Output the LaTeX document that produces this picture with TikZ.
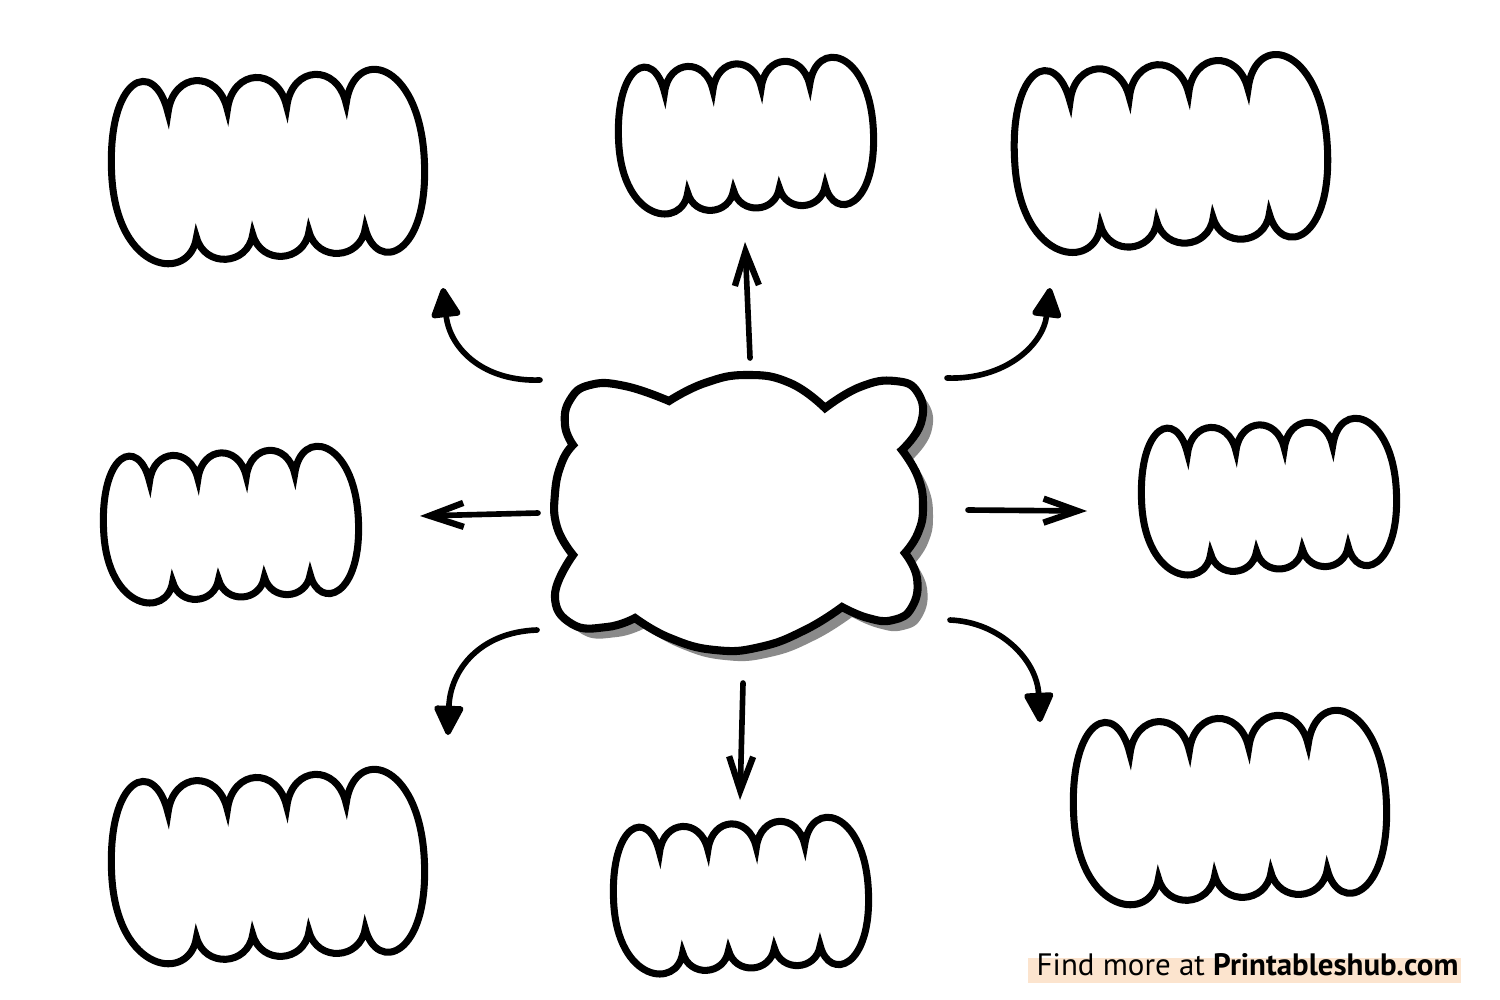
\documentclass[tikz,border=0pt]{standalone}
\usepackage{fontspec}
\setmainfont{PT Sans}
\usetikzlibrary{arrows.meta}
\definecolor{shadowgray}{HTML}{8A8A8A}
\definecolor{peach}{HTML}{FCE4CE}

% scalloped bubble: centre x, centre y, width, height, tilt
\newcommand{\bubble}[5]{%
\begin{scope}[shift={(#1,#2)},rotate=#5]
\draw[bubble] ({-0.5*#3},0)
 .. controls ({-0.5*#3},{-0.55*#4}) and ({-0.31*#3-0.06*#4},{-0.65*#4}) .. ({-0.31*#3},{-0.33*#4})
 .. controls ({-0.31*#3+0.04*#4},{-0.557*#4}) and ({-0.12*#3-0.04*#4},{-0.557*#4}) .. ({-0.12*#3},{-0.33*#4})
 .. controls ({-0.12*#3+0.04*#4},{-0.557*#4}) and ({0.07*#3-0.04*#4},{-0.557*#4}) .. ({0.07*#3},{-0.33*#4})
 .. controls ({0.07*#3+0.04*#4},{-0.557*#4}) and ({0.26*#3-0.04*#4},{-0.557*#4}) .. ({0.26*#3},{-0.33*#4})
 .. controls ({0.26*#3+0.06*#4},{-0.65*#4}) and ({0.5*#3},{-0.55*#4}) .. ({0.5*#3},0)
 .. controls ({0.5*#3},{0.55*#4}) and ({0.30*#3+0.05*#4},{0.62*#4}) .. ({0.30*#3},{0.37*#4})
 .. controls ({0.30*#3-0.037*#4},{0.543*#4}) and ({0.12*#3+0.037*#4},{0.543*#4}) .. ({0.12*#3},{0.37*#4})
 .. controls ({0.12*#3-0.037*#4},{0.543*#4}) and ({-0.06*#3+0.037*#4},{0.543*#4}) .. ({-0.06*#3},{0.37*#4})
 .. controls ({-0.06*#3-0.037*#4},{0.543*#4}) and ({-0.24*#3+0.037*#4},{0.543*#4}) .. ({-0.24*#3},{0.37*#4})
 .. controls ({-0.24*#3-0.05*#4},{0.62*#4}) and ({-0.5*#3},{0.55*#4}) .. ({-0.5*#3},0) -- cycle;
\end{scope}}

\def\hubpath{(573,445)
 -- plot[smooth,tension=.8] coordinates {(573,445) (565,425) (570,400) (590,385) (625,386) (669,401)}
 -- plot[smooth,tension=.8] coordinates {(669,401) (705,383) (747,375) (790,383) (825,408)}
 -- plot[smooth,tension=.8] coordinates {(825,408) (860,387) (895,381) (918,393) (921,423) (902,450)}
 -- plot[smooth,tension=.8] coordinates {(902,450) (918,477) (923,507) (918,533) (905,553)}
 -- plot[smooth,tension=.8] coordinates {(905,553) (917,578) (912,607) (893,620) (868,618) (842,607)}
 -- plot[smooth,tension=.8] coordinates {(842,607) (805,630) (760,647) (715,650) (670,638) (635,618)}
 -- plot[smooth,tension=.8] coordinates {(635,618) (607,627) (572,624) (555,595) (573,555)}
 -- plot[smooth,tension=.8] coordinates {(573,555) (557,527) (555,493) (562,462) (573,445)}
 -- cycle}

\begin{document}
\begin{tikzpicture}[x=0.01cm,y=-0.01cm,
  bubble/.style={draw=black,fill=white,line width=2pt,line join=miter,miter limit=8},
  hub/.style={draw=black,fill=white,line width=2.3pt,line join=miter,miter limit=8},
  bent/.style={line width=1.6pt,line cap=round,-{Triangle[length=3.3mm,width=3.1mm,round]}},
  straight/.style={line width=1.6pt,line cap=round,-{Straight Barb[length=3.4mm,width=2.4mm,line width=1.8pt]}},
  credit/.style={font=\fontsize{8.8}{10}\selectfont,inner sep=0pt}]
\fill[white] (0,0) rectangle (1500,1000);
\useasboundingbox (0,0) rectangle (1500,1000);

\bubble{268}{167}{313}{180}{3}
\bubble{746}{136}{255}{145}{3}
\bubble{1171}{154}{313}{180}{4}
\bubble{231}{525}{255}{145}{3}
\bubble{1269}{497}{255}{145}{3}
\bubble{268}{867}{313}{180}{3}
\bubble{741}{896}{255}{145}{3}
\bubble{1230}{808}{313}{180}{3}

\fill[shadowgray,shift={(10,10)}] \hubpath;
\draw[hub] \hubpath;

\coordinate (nw-from) at (540,380);  \coordinate (nw-to) at (443,288);
\coordinate (n-from)  at (750,358);  \coordinate (n-to)  at (745,242);
\coordinate (ne-from) at (947,378);  \coordinate (ne-to) at (1050,288);
\coordinate (w-from)  at (538,513);  \coordinate (w-to)  at (420,516);
\coordinate (e-from)  at (968,510);  \coordinate (e-to)  at (1087,511);
\coordinate (sw-from) at (537,630);  \coordinate (sw-to) at (448,735);
\coordinate (s-from)  at (743,683);  \coordinate (s-to)  at (740,800);
\coordinate (se-from) at (950,620);  \coordinate (se-to) at (1040,722);

\draw[bent] (nw-from) .. controls (485,382) and (450,350) .. (nw-to);
\draw[bent] (ne-from) .. controls (1005,380) and (1043,345) .. (ne-to);
\draw[bent] (sw-from) .. controls (480,632) and (450,670) .. (sw-to);
\draw[bent] (se-from) .. controls (1000,622) and (1037,660) .. (se-to);
\draw[straight] (n-from) -- (n-to);
\draw[straight] (s-from) -- (s-to);
\draw[straight] (w-from) -- (w-to);
\draw[straight] (e-from) -- (e-to);

\fill[peach] (1028,958) rectangle (1461,983);
\node[credit,anchor=base west] (credit) at (1036,975) {Find more at \textbf{Printableshub.com}};
\end{tikzpicture}
\end{document}
